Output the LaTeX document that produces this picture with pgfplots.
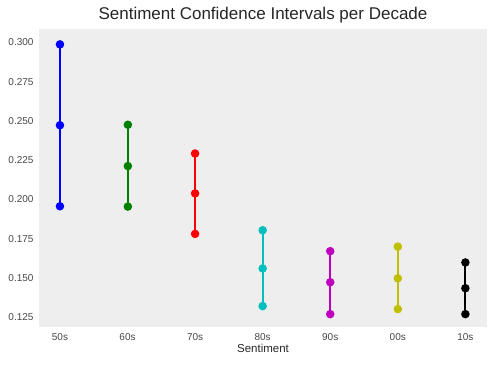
\documentclass[border=0pt]{standalone}
\usepackage{pgfplots}
\pgfplotsset{compat=1.18}
\usepackage{fontspec}
\setmainfont{Liberation Sans}
\definecolor{bgc}{HTML}{EEEEEE}
\definecolor{txt}{HTML}{262626}
\definecolor{mpgreen}{rgb}{0,0.5,0}
\definecolor{mpcyan}{rgb}{0,0.75,0.75}
\definecolor{mpmag}{rgb}{0.75,0,0.75}
\definecolor{mpyel}{rgb}{0.75,0.75,0}
\begin{document}
\begin{tikzpicture}[x=1pt,y=1pt]
\path[use as bounding box] (-39,-41) rectangle (454,327);
\begin{axis}[
  at={(0,0)}, anchor=south west,
  scale only axis, width=448pt, height=298pt,
  xmin=-0.31, xmax=6.32, ymin=0.1187, ymax=0.3085,
  axis background/.style={fill=bgc},
  axis line style={draw=none},
  major tick length=0pt,
  xtick={0,1,2,3,4,5,6},
  xticklabels={50s,60s,70s,80s,90s,00s,10s},
  ytick={0.125,0.150,0.175,0.200,0.225,0.250,0.275,0.300},
  /pgf/number format/fixed,
  /pgf/number format/fixed zerofill,
  /pgf/number format/precision=3,
  /pgf/number format/assume math mode=true,
  scaled y ticks=false,
  tick label style={font=\fontsize{10}{12}\selectfont, text=txt!85},
  xticklabel style={yshift=-3pt},
  yticklabel style={xshift=-2pt},
  xlabel={Sentiment},
  xlabel style={font=\fontsize{11.5}{13}\selectfont, text=txt, yshift=3pt},
  title={Sentiment Confidence Intervals per Decade},
  title style={font=\fontsize{17}{19}\selectfont, text=txt, yshift=-4pt},
]
\addplot[color=blue, line width=2pt, mark=*, mark size=3.2pt, mark options={fill=blue}] coordinates {(0,0.1956) (0,0.2472) (0,0.2987)};
\addplot[color=mpgreen, line width=2pt, mark=*, mark size=3.2pt, mark options={fill=mpgreen}] coordinates {(1.005,0.1954) (1.005,0.2212) (1.005,0.2475)};
\addplot[color=red, line width=2pt, mark=*, mark size=3.2pt, mark options={fill=red}] coordinates {(2,0.1780) (2,0.2038) (2,0.2292)};
\addplot[color=mpcyan, line width=2pt, mark=*, mark size=3.2pt, mark options={fill=mpcyan}] coordinates {(3,0.1320) (3,0.1560) (3,0.1803)};
\addplot[color=mpmag, line width=2pt, mark=*, mark size=3.2pt, mark options={fill=mpmag}] coordinates {(4,0.1269) (4,0.1472) (4,0.1670)};
\addplot[color=mpyel, line width=2pt, mark=*, mark size=3.2pt, mark options={fill=mpyel}] coordinates {(5,0.1301) (5,0.1497) (5,0.1699)};
\addplot[color=black, line width=2pt, mark=*, mark size=3.2pt, mark options={fill=black}] coordinates {(6,0.1269) (6,0.1434) (6,0.1598)};
\end{axis}
\end{tikzpicture}
\end{document}
